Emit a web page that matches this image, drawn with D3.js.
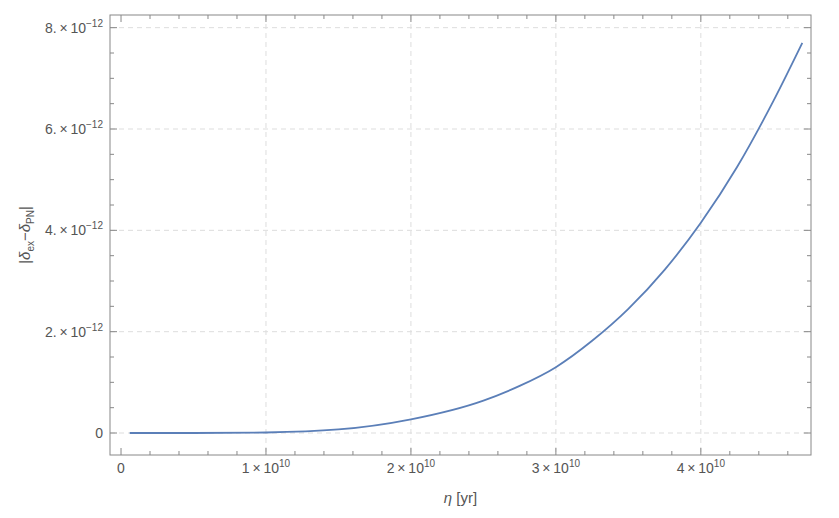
<!DOCTYPE html><html><head><script src="https://cdn.jsdelivr.net/npm/d3@7"></script>
<style>body{margin:0;background:#fff}text{font-family:"Liberation Sans",Arial,sans-serif;fill:#555}</style></head><body>
<svg id="c" width="839" height="518"></svg>
<script>
const etaE10=[0.06,0.5,1.0,1.5,2.0,2.5,2.75,3.0,3.25,3.5,3.75,4.0,4.25,4.5,4.7];
const deltaE12=[0,0,0.01,0.07,0.27,0.64,0.93,1.3,1.82,2.45,3.22,4.15,5.25,6.55,7.7];
const xTicks=[0,1,2,3,4];
const yTicks=[0,2,4,6,8];
const svg=d3.select("#c");
const L=110,R=811,T=15,B=455;
const x=d3.scaleLinear().domain([-0.076,4.76]).range([L,R]);
const y=d3.scaleLinear().domain([-0.434,8.25]).range([B,T]);
const g=svg.append("g");
xTicks.forEach(t=>{if(t>0)g.append("line").attr("x1",x(t)).attr("x2",x(t)).attr("y1",T).attr("y2",B).attr("stroke","#ddd").attr("stroke-dasharray","5,4");});
yTicks.forEach(t=>g.append("line").attr("x1",L).attr("x2",R).attr("y1",y(t)).attr("y2",y(t)).attr("stroke","#ddd").attr("stroke-dasharray","5,4"));
svg.append("rect").attr("x",L).attr("y",T).attr("width",R-L).attr("height",B-T).attr("fill","none").attr("stroke","#888");
d3.range(0,4.8,0.2).forEach(t=>{const maj=Math.abs(t-Math.round(t))<1e-6;const l=maj?7:4;
 [B,T].forEach((yy,i)=>svg.append("line").attr("x1",x(t)).attr("x2",x(t)).attr("y1",yy).attr("y2",i?yy+l:yy-l).attr("stroke","#888"));});
d3.range(0,8.3,0.5).forEach(t=>{const maj=Math.abs(t/2-Math.round(t/2))<1e-6;const l=maj?7:4;
 [L,R].forEach((xx,i)=>svg.append("line").attr("y1",y(t)).attr("y2",y(t)).attr("x1",xx).attr("x2",i?xx-l:xx+l).attr("stroke","#888"));});
xTicks.forEach(t=>{const tx=svg.append("text").attr("x",x(t)).attr("y",B+18).attr("text-anchor","middle").attr("font-size",14);
 if(t===0)tx.text("0");else{tx.append("tspan").text(t+"\u2009\u00d7\u200910");tx.append("tspan").attr("dy",-6).attr("font-size",10).text("10");}});
yTicks.forEach(t=>{const tx=svg.append("text").attr("x",L-7).attr("y",y(t)+5).attr("text-anchor","end").attr("font-size",14);
 if(t===0)tx.text("0");else{tx.append("tspan").text(t+".\u2009\u00d7\u200910");tx.append("tspan").attr("dy",-6).attr("font-size",10).text("\u221212");}});
const xl=svg.append("text").attr("x",(L+R)/2).attr("y",503).attr("text-anchor","middle").attr("font-size",15);
xl.append("tspan").attr("font-style","italic").text("\u03b7");xl.append("tspan").text(" [yr]");
const yl=svg.append("text").attr("transform",`translate(30,${(T+B)/2}) rotate(-90)`).attr("text-anchor","middle").attr("font-size",15);
yl.append("tspan").text("|");yl.append("tspan").attr("font-style","italic").text("\u03b4");
yl.append("tspan").attr("dy",4).attr("font-size",10).text("ex");
yl.append("tspan").attr("dy",-4).text("\u2212");yl.append("tspan").attr("font-style","italic").text("\u03b4");
yl.append("tspan").attr("dy",4).attr("font-size",10).text("PN");yl.append("tspan").attr("dy",-4).text("|");
const line=d3.line().x((d,i)=>x(etaE10[i])).y(d=>y(d)).curve(d3.curveMonotoneX);
svg.append("path").attr("d",line(deltaE12)).attr("fill","none").attr("stroke","#5b7fb8").attr("stroke-width",1.8);
</script></body></html>
